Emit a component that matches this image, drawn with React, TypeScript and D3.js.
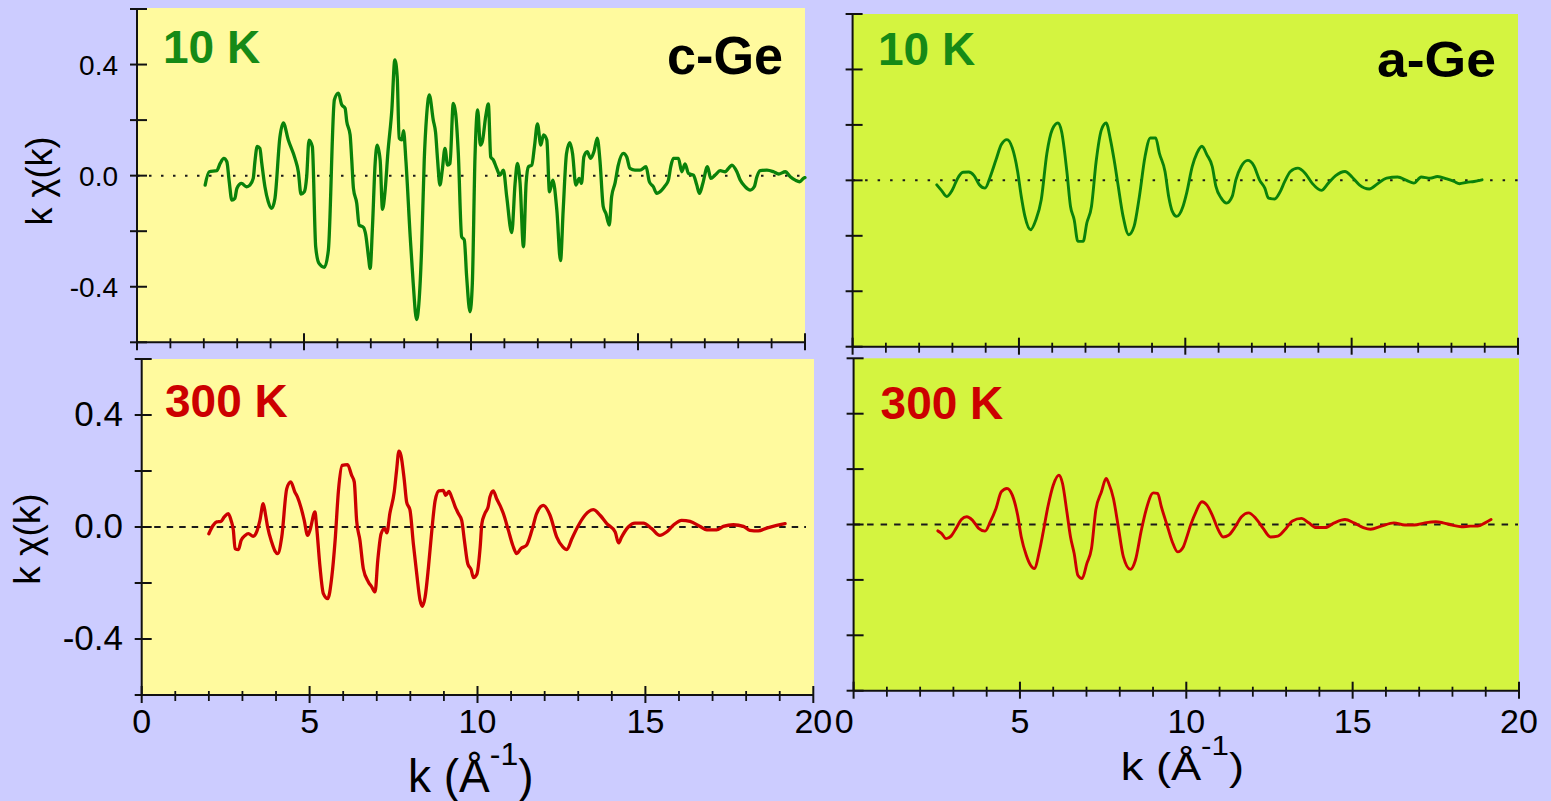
import React from 'react';
import * as d3 from 'd3';

// ---------- DATA (k in 1/Å, k·chi(k)) ----------
const kMajorTicks = [0, 5, 10, 15, 20];
const kMinorTicks = d3.range(0, 21, 1);
const yTickValues = [-0.6, -0.4, -0.2, 0, 0.2, 0.4, 0.6];
const yTickLabels = [-0.4, 0, 0.4];

const cGe10K: [number, number][] = [
  [2.04,-0.034],[2.16,0.014],[2.39,0.018],[2.49,0.044],[2.60,0.062],[2.69,0.05],[2.76,-0.02],[2.84,-0.088],[2.93,-0.082],[2.99,-0.046],
  [3.13,-0.028],[3.28,-0.04],[3.38,-0.034],[3.48,-0.01],[3.53,0.05],[3.60,0.105],[3.68,0.098],[3.73,0.05],[3.83,-0.04],[3.93,-0.094],
  [4.03,-0.118],[4.13,-0.082],[4.28,0.14],[4.38,0.19],[4.53,0.128],[4.73,0.062],[4.83,0.014],[4.91,-0.066],[5.01,-0.058],[5.08,-0.004],
  [5.15,0.128],[5.25,0.104],[5.35,-0.256],[5.45,-0.316],[5.61,-0.33],[5.73,-0.268],[5.91,0.273],[6.03,0.297],[6.13,0.255],[6.23,0.243],
  [6.28,0.195],[6.38,0.147],[6.43,0.056],[6.48,-0.046],[6.58,-0.1],[6.65,-0.178],[6.78,-0.186],[6.85,-0.214],[6.93,-0.292],[6.98,-0.334],
  [7.05,-0.184],[7.13,0.044],[7.19,0.11],[7.28,0.056],[7.35,-0.121],[7.43,-0.052],[7.51,0.08],[7.63,0.237],[7.72,0.417],[7.79,0.357],
  [7.85,0.135],[7.93,0.129],[7.98,0.162],[8.05,0.056],[8.18,-0.22],[8.27,-0.388],[8.37,-0.518],[8.44,-0.46],[8.52,-0.268],[8.60,0.056],
  [8.67,0.213],[8.75,0.291],[8.87,0.2],[8.94,0.155],[9.00,0.056],[9.07,-0.034],[9.14,0.02],[9.22,0.098],[9.30,0.038],[9.37,0.044],
  [9.47,0.26],[9.54,0.224],[9.62,0.08],[9.72,-0.22],[9.80,-0.232],[9.87,-0.364],[9.97,-0.49],[10.04,-0.388],[10.12,0.068],[10.20,0.237],
  [10.28,0.11],[10.34,0.123],[10.44,0.213],[10.52,0.258],[10.59,0.068],[10.67,0.056],[10.77,0.026],[10.87,0.002],[10.97,0.02],[11.07,-0.076],
  [11.22,-0.205],[11.32,-0.028],[11.39,0.044],[11.47,-0.028],[11.57,-0.256],[11.65,-0.028],[11.72,0.032],[11.82,0.038],[11.90,0.105],[11.99,0.186],
  [12.09,0.11],[12.17,0.147],[12.27,0.128],[12.35,-0.058],[12.45,-0.016],[12.57,-0.124],[12.68,-0.306],[12.76,-0.124],[12.86,0.08],[12.96,0.119],
  [13.04,0.08],[13.14,-0.034],[13.24,-0.01],[13.31,-0.028],[13.38,0.068],[13.48,0.086],[13.58,0.062],[13.68,0.086],[13.78,0.135],[13.86,0.056],
  [13.96,-0.112],[14.04,-0.136],[14.14,-0.178],[14.21,-0.076],[14.31,-0.028],[14.41,0.038],[14.56,0.08],[14.66,0.068],[14.76,0.026],[14.91,0.02],
  [15.06,0.02],[15.24,0.032],[15.34,-0.022],[15.46,-0.04],[15.56,-0.064],[15.71,-0.052],[15.81,-0.037],[15.91,-0.016],[15.98,0.032],[16.06,0.062],
  [16.21,0.062],[16.31,0.014],[16.41,0.042],[16.51,0.008],[16.66,0.002],[16.76,-0.034],[16.84,-0.064],[16.94,-0.028],[17.08,0.032],[17.18,-0.01],
  [17.31,0.002],[17.46,0.018],[17.61,0.014],[17.71,0.026],[17.81,0.038],[17.96,0.014],[18.06,-0.016],[18.21,-0.04],[18.36,-0.052],[18.48,-0.04],
  [18.56,-0.004],[18.66,0.018],[18.86,0.02],[19.06,0.014],[19.21,0.006],[19.41,0.014],[19.56,-0.004],[19.71,-0.016],[19.84,-0.022],[19.95,-0.01],[20.0,-0.007]
];

const cGe300K: [number, number][] = [
  [2.0,-0.024],[2.13,0.006],[2.23,0.018],[2.36,0.02],[2.46,0.036],[2.58,0.048],[2.66,0.024],[2.73,-0.012],[2.78,-0.077],[2.88,-0.081],
  [2.96,-0.048],[3.08,-0.03],[3.18,-0.024],[3.32,-0.033],[3.42,-0.018],[3.52,0.024],[3.62,0.083],[3.69,0.042],[3.75,0],[3.87,-0.054],
  [3.97,-0.086],[4.05,-0.095],[4.17,-0.036],[4.32,0.137],[4.44,0.161],[4.56,0.125],[4.64,0.107],[4.74,0.071],[4.84,0.024],[4.94,-0.03],
  [5.01,-0.012],[5.16,0.054],[5.21,0],[5.31,-0.143],[5.41,-0.238],[5.54,-0.256],[5.66,-0.179],[5.76,-0.048],[5.86,0.131],[5.97,0.22],
  [6.13,0.223],[6.25,0.185],[6.33,0.161],[6.40,0.024],[6.50,-0.048],[6.60,-0.149],[6.75,-0.196],[6.85,-0.214],[6.95,-0.232],[7.03,-0.119],
  [7.13,-0.024],[7.23,-0.006],[7.30,-0.021],[7.39,0.048],[7.52,0.125],[7.59,0.202],[7.66,0.271],[7.72,0.256],[7.82,0.167],[7.89,0.089],
  [7.99,0.06],[8.09,-0.06],[8.19,-0.167],[8.29,-0.262],[8.36,-0.283],[8.44,-0.25],[8.54,-0.143],[8.64,-0.012],[8.74,0.095],[8.85,0.129],
  [8.98,0.131],[9.05,0.113],[9.15,0.127],[9.23,0.107],[9.33,0.074],[9.43,0.048],[9.53,0.024],[9.61,-0.048],[9.71,-0.131],[9.81,-0.152],
  [9.88,-0.181],[9.98,-0.169],[10.08,-0.071],[10.13,0.012],[10.22,0.048],[10.32,0.074],[10.37,0.107],[10.47,0.129],[10.57,0.101],[10.67,0.077],
  [10.77,0.048],[10.92,-0.012],[11.05,-0.065],[11.17,-0.095],[11.29,-0.077],[11.46,-0.065],[11.62,-0.012],[11.76,0.048],[11.96,0.077],[12.16,0.042],
  [12.36,-0.036],[12.54,-0.071],[12.66,-0.081],[12.81,-0.042],[12.98,0],[13.2,0.042],[13.45,0.062],[13.65,0.042],[13.85,0.012],[14.1,-0.018],
  [14.2,-0.057],[14.29,-0.036],[14.49,0],[14.69,0.014],[14.94,0.014],[15.19,-0.006],[15.43,-0.03],[15.63,-0.018],[15.83,0.006],[16.08,0.024],
  [16.33,0.02],[16.63,0.002],[16.83,-0.01],[17.12,-0.01],[17.32,0.002],[17.62,0.008],[17.92,0.002],[18.11,-0.012],[18.36,-0.014],[18.61,-0.004],
  [18.91,0.006],[19.16,0.012]
];

const aGe10K: [number, number][] = [
  [2.53,-0.016],[2.67,-0.036],[2.83,-0.058],[3.0,-0.034],[3.16,0.008],[3.32,0.029],[3.49,0.03],[3.65,0.017],[3.81,-0.016],[3.98,-0.028],
  [4.14,0.014],[4.31,0.074],[4.47,0.129],[4.64,0.147],[4.80,0.117],[4.96,0.032],[5.07,-0.058],[5.18,-0.13],[5.35,-0.178],[5.51,-0.142],
  [5.67,-0.07],[5.84,0.098],[6.0,0.183],[6.17,0.207],[6.28,0.177],[6.44,0.032],[6.55,-0.094],[6.66,-0.142],[6.77,-0.22],[6.93,-0.22],
  [7.04,-0.154],[7.18,-0.094],[7.32,0.068],[7.48,0.183],[7.62,0.207],[7.75,0.147],[7.86,0.074],[7.97,-0.01],[8.13,-0.13],[8.30,-0.196],
  [8.46,-0.166],[8.62,-0.058],[8.79,0.086],[8.95,0.153],[9.11,0.153],[9.22,0.098],[9.39,0.032],[9.50,-0.058],[9.61,-0.112],[9.74,-0.13],
  [9.93,-0.094],[10.04,-0.046],[10.21,0.05],[10.35,0.098],[10.50,0.123],[10.65,0.092],[10.81,0.05],[10.92,-0.022],[11.08,-0.064],[11.24,-0.082],
  [11.41,-0.058],[11.52,0.002],[11.68,0.05],[11.88,0.072],[12.06,0.053],[12.23,0.002],[12.39,-0.028],[12.50,-0.064],[12.69,-0.067],[12.83,-0.046],
  [12.99,-0.004],[13.16,0.032],[13.38,0.044],[13.60,0.026],[13.81,-0.01],[14.09,-0.036],[14.30,-0.01],[14.52,0.017],[14.80,0.032],[15.01,0.012],
  [15.23,-0.016],[15.53,-0.031],[15.78,-0.012],[16.05,0.008],[16.38,0.012],[16.65,0],[16.87,-0.01],[17.09,0.012],[17.36,0.008],[17.58,0.014],
  [17.86,0.005],[18.08,-0.004],[18.24,-0.012],[18.46,-0.007],[18.68,-0.004],[18.92,0.002]
];

const aGe300K: [number, number][] = [
  [2.53,-0.023],[2.64,-0.032],[2.78,-0.051],[2.93,-0.042],[3.08,-0.014],[3.24,0.018],[3.40,0.028],[3.57,0.016],[3.76,-0.014],[3.95,-0.024],
  [4.11,0.01],[4.28,0.058],[4.44,0.118],[4.61,0.13],[4.77,0.106],[4.93,0.034],[5.04,-0.045],[5.19,-0.111],[5.32,-0.147],[5.43,-0.159],
  [5.59,-0.093],[5.70,-0.026],[5.84,0.064],[6.0,0.142],[6.17,0.178],[6.28,0.148],[6.41,0.046],[6.52,-0.045],[6.63,-0.105],[6.74,-0.183],
  [6.87,-0.195],[7.01,-0.141],[7.15,-0.087],[7.28,0.052],[7.45,0.118],[7.59,0.166],[7.67,0.148],[7.81,0.094],[7.94,0.004],[8.11,-0.117],
  [8.32,-0.162],[8.47,-0.129],[8.65,-0.02],[8.79,0.052],[9.01,0.114],[9.14,0.112],[9.25,0.064],[9.42,-0.002],[9.58,-0.063],[9.74,-0.099],
  [9.91,-0.081],[10.0,-0.051],[10.13,-0.002],[10.29,0.046],[10.47,0.082],[10.62,0.07],[10.78,0.034],[10.94,-0.014],[11.11,-0.045],[11.27,-0.039],
  [11.44,-0.014],[11.66,0.028],[11.87,0.042],[12.09,0.022],[12.31,-0.014],[12.53,-0.045],[12.75,-0.042],[12.97,-0.018],[13.19,0.013],[13.46,0.022],
  [13.68,0.006],[13.90,-0.011],[14.17,-0.011],[14.45,0.006],[14.77,0.018],[15.04,0.006],[15.32,-0.011],[15.54,-0.017],[15.86,-0.006],[16.24,0.006],
  [16.57,-0.002],[16.85,-0.002],[17.17,0.006],[17.50,0.01],[17.72,0.006],[17.99,-0.002],[18.27,-0.008],[18.54,-0.006],[18.76,-0.006],[18.98,0.006],[19.16,0.018]
];

// ---------- STYLE / LAYOUT ----------
const FONT = "'Liberation Sans', Arial, Helvetica, sans-serif";
const PAGE_BG = '#CCCCFF';
const YELLOW = '#FFFA9E';
const LIME = '#D4F440';
const GREEN_LINE = '#0A820A';
const GREEN_TEXT = '#168A16';
const RED = '#CC0000';

interface PanelCfg {
  left: number; right: number; top: number; bottom: number;
  bgTop: number; bgRight: number; bg: string;
  series: [number, number][]; color: string; lw: number;
  zeroDash: string; zeroW: number; zeroEnd: number;
  temp: string; tempColor: string; tempX: number; tempY: number; tempSize: number;
  mat?: string; matX?: number; matY?: number; matSize?: number; matLen?: number;
  yLab?: { size: number; right: number; dy: number };
  xLab?: { size: number; baseline: number; firstEnd?: boolean };
}

const panels: PanelCfg[] = [
  {
    left: 137, right: 805, top: 9, bottom: 342.3, bgTop: 8, bgRight: 805, bg: YELLOW,
    series: cGe10K, color: GREEN_LINE, lw: 3.3, zeroDash: '2.5,9.5', zeroW: 2, zeroEnd: 802,
    temp: '10 K', tempColor: GREEN_TEXT, tempX: 163, tempY: 63, tempSize: 46,
    mat: 'c-Ge', matX: 667, matY: 74, matSize: 53, matLen: 116,
    yLab: { size: 28, right: 118, dy: 10 },
  },
  {
    left: 141.7, right: 813.3, top: 359, bottom: 695, bgTop: 359, bgRight: 814, bg: YELLOW,
    series: cGe300K, color: RED, lw: 3.3, zeroDash: '6.5,6', zeroW: 2, zeroEnd: 806,
    temp: '300 K', tempColor: RED, tempX: 165, tempY: 417, tempSize: 46,
    yLab: { size: 35, right: 123, dy: 10.5 },
    xLab: { size: 34, baseline: 733 },
  },
  {
    left: 852.6, right: 1518, top: 14, bottom: 346.7, bgTop: 14, bgRight: 1518, bg: LIME,
    series: aGe10K, color: GREEN_LINE, lw: 2.9, zeroDash: '2.5,10', zeroW: 2, zeroEnd: 1518,
    temp: '10 K', tempColor: GREEN_TEXT, tempX: 878, tempY: 65, tempSize: 46,
    mat: 'a-Ge', matX: 1377, matY: 77, matSize: 50, matLen: 119,
  },
  {
    left: 853.6, right: 1519, top: 358.3, bottom: 690.7, bgTop: 358.3, bgRight: 1519, bg: LIME,
    series: aGe300K, color: RED, lw: 2.9, zeroDash: '6.5,7', zeroW: 2, zeroEnd: 1518,
    temp: '300 K', tempColor: RED, tempX: 880.6, tempY: 419, tempSize: 46,
    xLab: { size: 34, baseline: 733, firstEnd: true },
  },
];

function Panel({ p }: { p: PanelCfg }) {
  const x = d3.scaleLinear().domain([0, 20]).range([p.left, p.right]);
  const y = d3.scaleLinear().domain([-0.6, 0.6]).range([p.bottom, p.top]);
  const line = d3
    .line<[number, number]>()
    .x((d) => x(d[0]))
    .y((d) => y(d[1]))
    .curve(d3.curveMonotoneX);
  return (
    <g>
      <rect x={p.left} y={p.bgTop} width={p.bgRight - p.left} height={p.bottom - p.bgTop} fill={p.bg} />
      <line x1={p.left} x2={p.zeroEnd} y1={y(0)} y2={y(0)} stroke="#1a1a1a" strokeWidth={p.zeroW} strokeDasharray={p.zeroDash} />
      <path d={line(p.series) || ''} fill="none" stroke={p.color} strokeWidth={p.lw} strokeLinejoin="round" strokeLinecap="round" />
      {/* axes */}
      <line x1={p.left} x2={p.left} y1={p.top} y2={p.bottom} stroke="#111" strokeWidth={2} />
      <line x1={p.left} x2={p.right} y1={p.bottom} y2={p.bottom} stroke="#111" strokeWidth={2} />
      {yTickValues.map((v) => (
        <line key={'yt' + v} x1={p.left - 7} x2={p.left + 10} y1={y(v)} y2={y(v)} stroke="#111" strokeWidth={2} />
      ))}
      {kMinorTicks.map((k) => {
        const major = kMajorTicks.includes(k);
        return (
          <line key={'xt' + k} x1={x(k)} x2={x(k)} y1={p.bottom - (major ? 9 : 4)} y2={p.bottom + (major ? 8 : 6)} stroke="#111" strokeWidth={major ? 2 : 1.8} />
        );
      })}
      {p.yLab &&
        yTickLabels.map((v) => (
          <text key={'yl' + v} x={p.yLab!.right} y={y(v) + p.yLab!.dy} textAnchor="end" fontFamily={FONT} fontSize={p.yLab!.size} fill="#000">
            {v.toFixed(1)}
          </text>
        ))}
      {p.xLab &&
        kMajorTicks.map((k, i) => (
          <text key={'xl' + k} x={x(k)} y={p.xLab!.baseline} textAnchor={p.xLab!.firstEnd && i === 0 ? 'end' : 'middle'} fontFamily={FONT} fontSize={p.xLab!.size} fill="#000">
            {k}
          </text>
        ))}
      <text x={p.tempX} y={p.tempY} fontFamily={FONT} fontWeight="bold" fontSize={p.tempSize} fill={p.tempColor}>
        {p.temp}
      </text>
      {p.mat && (
        <text x={p.matX} y={p.matY} fontFamily={FONT} fontWeight="bold" fontSize={p.matSize} fill="#000" textLength={p.matLen} lengthAdjust="spacingAndGlyphs">
          {p.mat}
        </text>
      )}
    </g>
  );
}

export default function App() {
  return (
    <svg width={1551} height={801} viewBox="0 0 1551 801" style={{ position: 'absolute', left: 0, top: 0, display: 'block' }}>
      <rect x={0} y={0} width={1551} height={801} fill={PAGE_BG} />
      {panels.map((p, i) => (
        <Panel key={i} p={p} />
      ))}
      {/* y-axis titles */}
      <text transform="translate(52,181) rotate(-90)" textAnchor="middle" fontFamily={FONT} fontSize={36} fill="#000">
        k χ(k)
      </text>
      <text transform="translate(40,539) rotate(-90)" textAnchor="middle" fontFamily={FONT} fontSize={37} fill="#000">
        k χ(k)
      </text>
      {/* x-axis titles */}
      <text x={408} y={791.7} fontFamily={FONT} fontSize={46} fill="#000">
        k (Å<tspan fontSize={32} dy={-26.7}>-1</tspan>
        <tspan dy={26.7}>)</tspan>
      </text>
      <g transform="translate(1120.7,780) scale(1.16,1)">
        <text x={0} y={0} fontFamily={FONT} fontSize={39} fill="#000">
          k (Å<tspan fontSize={27} dy={-25}>-1</tspan>
          <tspan dy={25}>)</tspan>
        </text>
      </g>
    </svg>
  );
}
